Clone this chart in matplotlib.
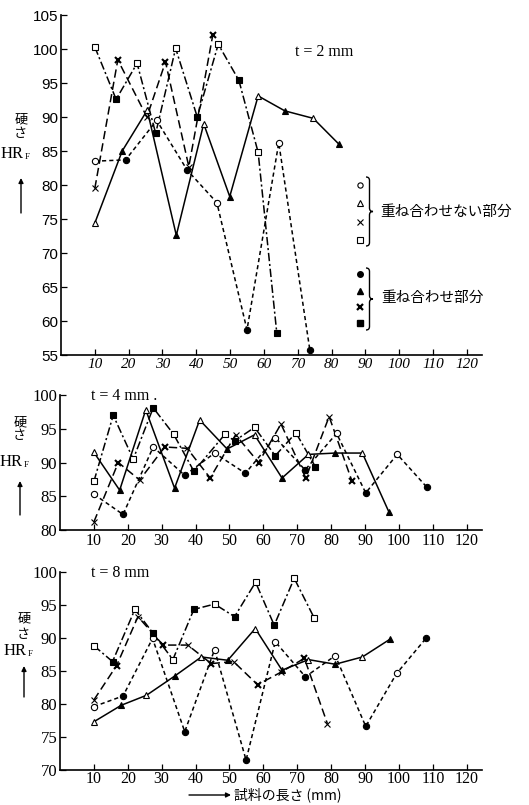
import numpy as np
import matplotlib
matplotlib.use("Agg")
import matplotlib.pyplot as plt
from matplotlib.path import Path
from matplotlib.patches import PathPatch

plt.rcParams['lines.scale_dashes'] = False

# ---------------- data (x: length of specimen mm, y: hardness HRF) ----------------
# t = 2 mm
circ_x_t2 = [10, 19.1, 28.3, 37.3, 46.1, 55.0, 64.4, 73.6]
circ_y_t2 = [83.5, 83.7, 89.5, 82.2, 77.4, 58.7, 86.2, 55.7]
tri_x_t2 = [10, 18.1, 25.5, 34.1, 42.2, 49.9, 58.3, 66.2, 74.6, 82.2]
tri_y_t2 = [74.4, 85.0, 91.0, 72.6, 89.0, 78.3, 93.1, 90.9, 89.8, 86.0]
crs_x_t2 = [10, 16.8, 25.4, 30.9, 37.8, 44.9]
crs_y_t2 = [79.5, 98.4, 90.0, 98.1, 82.7, 102.1]
sq_x_t2 = [10, 16.3, 22.5, 28.0, 33.9, 40.3, 46.5, 52.6, 58.3, 63.8]
sq_y_t2 = [100.3, 92.6, 97.9, 87.6, 100.1, 90.0, 100.7, 95.4, 84.8, 58.3]

# t = 4 mm
circ_x_t4 = [10, 18.6, 27.5, 36.8, 45.6, 54.7, 63.5, 72.3, 81.6, 90.2, 99.5, 108.3]
circ_y_t4 = [85.3, 82.3, 92.3, 88.1, 91.4, 88.4, 93.7, 88.9, 94.3, 85.5, 91.2, 86.3]
tri_x_t4 = [10, 17.6, 25.3, 33.8, 41.2, 49.3, 57.4, 65.5, 73.3, 81.2, 89.2, 97.1]
tri_y_t4 = [91.5, 85.9, 97.8, 86.2, 96.3, 92.0, 94.1, 87.7, 91.2, 91.4, 91.4, 82.6]
crs_x_t4 = [10, 17.2, 23.5, 30.9, 37.5, 44.3, 51.8, 58.6, 65.2, 72.5, 79.4, 86.1]
crs_y_t4 = [81.2, 90.0, 87.4, 92.3, 92.1, 87.7, 94.1, 90.0, 95.7, 87.7, 96.8, 87.3]
sq_x_t4 = [10, 15.7, 21.6, 27.5, 33.5, 39.5, 48.7, 51.5, 57.4, 63.5, 69.6, 75.3]
sq_y_t4 = [87.2, 97.0, 90.5, 98.1, 94.2, 88.7, 94.2, 93.2, 95.2, 91.0, 94.4, 89.4]

# t = 8 mm
circ_x_t8 = [10, 18.6, 27.3, 36.8, 45.6, 54.9, 63.5, 72.4, 81.2, 90.2, 99.3, 108.1]
circ_y_t8 = [79.6, 81.2, 89.9, 75.8, 88.2, 71.5, 89.4, 84.1, 87.3, 76.6, 84.6, 90.0]
tri_x_t8 = [10, 18.1, 25.5, 33.8, 41.7, 49.5, 57.6, 65.5, 73.3, 81.2, 89.2, 97.4]
tri_y_t8 = [77.3, 79.8, 81.3, 84.2, 87.1, 86.6, 91.4, 85.1, 86.7, 86.0, 87.1, 89.8]
crs_x_t8 = [10, 16.7, 23.0, 30.4, 37.7, 44.6, 51.2, 58.3, 65.2, 72.1, 78.9]
crs_y_t8 = [80.6, 85.8, 93.2, 88.9, 88.9, 86.1, 86.4, 82.9, 84.8, 86.9, 77.0]
sq_x_t8 = [10, 15.5, 22.1, 27.3, 33.3, 39.5, 45.6, 51.5, 57.7, 63.2, 69.1, 75.0]
sq_y_t8 = [88.8, 86.4, 94.3, 90.8, 86.7, 94.3, 95.1, 93.2, 98.4, 91.9, 99.0, 93.0]
sq_f_t8 = [0, 1, 0, 1, 0, 1, 0, 1, 0, 1, 0, 0]

x_ticks = [10, 20, 30, 40, 50, 60, 70, 80, 90, 100, 110, 120]
titles = ["t = 2 mm", "t = 4 mm", "t = 8 mm"]
legend_open = "重ね合わせない部分"
legend_filled = "重ね合わせ部分"
xlabel_text = "試料の長さ (mm)"

W, H = 529, 805
fig = plt.figure(figsize=(W / 100, H / 100), dpi=100)
fig.patch.set_facecolor('white')

JP = ['Noto Sans CJK JP', 'DejaVu Sans']
SERIF = 'Liberation Serif'


def px_rect(l, t, r, b):
    return [l / W, 1 - b / H, (r - l) / W, (b - t) / H]


def alt(n):
    return [i % 2 for i in range(n)]


LW = 1.1
styles = {
    'o': dict(ls=(0, (3, 2.2))),
    '^': dict(ls='-'),
    'x': dict(ls=(0, (6, 3))),
    's': dict(ls=(0, (6, 2, 1.5, 2))),
}


def series(ax, xs, ys, marker, filled=None):
    xs = np.asarray(xs, float)
    ys = np.asarray(ys, float)
    f = np.asarray(filled if filled is not None else alt(len(xs)), bool)
    ax.plot(xs, ys, color='k', lw=LW, linestyle=styles[marker]['ls'], zorder=2)
    if marker == 'x':
        ax.plot(xs[~f], ys[~f], 'x', ms=3.8, mew=0.8, color='k', zorder=3)
        ax.plot(xs[f], ys[f], 'x', ms=4.6, mew=1.5, color='k', zorder=3)
    else:
        ms = {'o': 4.5, '^': 4.8, 's': 4.3}[marker]
        ax.plot(xs[~f], ys[~f], marker, ms=ms, mfc='white', mec='k', mew=0.8,
                linestyle='none', zorder=3)
        ax.plot(xs[f], ys[f], marker, ms=ms, mfc='k', mec='k', mew=0.8,
                linestyle='none', zorder=3)


def setup(ax, ylo, yhi, italic_x=False, sans_y=False, xpad=2):
    ax.set_xlim(0, 124.5)
    ax.set_ylim(ylo, yhi)
    for s in ['top', 'right']:
        ax.spines[s].set_visible(False)
    for s in ['left', 'bottom']:
        ax.spines[s].set_linewidth(1.2)
    ax.set_xticks(x_ticks)
    ax.set_yticks(np.arange(ylo, yhi + 0.1, 5))
    ax.tick_params(direction='in', length=4, width=0.9, pad=2)
    ax.tick_params(axis='x', pad=xpad)
    for lab in ax.get_xticklabels():
        if italic_x:
            lab.set_fontfamily(SERIF)
            lab.set_fontstyle('italic')
            lab.set_fontsize(11)
        else:
            lab.set_fontfamily(SERIF)
            lab.set_fontsize(11.5)
    for lab in ax.get_yticklabels():
        if sans_y:
            lab.set_fontfamily('Liberation Sans')
            lab.set_fontsize(11)
        else:
            lab.set_fontfamily(SERIF)
            lab.set_fontsize(12)
    ax.set_facecolor('none')


ax1 = fig.add_axes(px_rect(61, 15, 482, 355))
setup(ax1, 55, 105, italic_x=True, sans_y=True)
series(ax1, circ_x_t2, circ_y_t2, 'o')
series(ax1, tri_x_t2, tri_y_t2, '^')
series(ax1, crs_x_t2, crs_y_t2, 'x')
series(ax1, sq_x_t2, sq_y_t2, 's')

ax2 = fig.add_axes(px_rect(60, 395, 482, 530))
setup(ax2, 80, 100)
series(ax2, circ_x_t4, circ_y_t4, 'o')
series(ax2, tri_x_t4, tri_y_t4, '^')
series(ax2, crs_x_t4, crs_y_t4, 'x')
series(ax2, sq_x_t4, sq_y_t4, 's')

ax3 = fig.add_axes(px_rect(60, 571.7, 482, 770))
setup(ax3, 70, 100, xpad=1)
series(ax3, circ_x_t8, circ_y_t8, 'o')
series(ax3, tri_x_t8, tri_y_t8, '^')
series(ax3, crs_x_t8, crs_y_t8, 'x')
series(ax3, sq_x_t8, sq_y_t8, 's', filled=sq_f_t8)

# ---------------- overlay in pixel coordinates ----------------
ov = fig.add_axes([0, 0, 1, 1])
ov.set_xlim(0, W)
ov.set_ylim(H, 0)
ov.axis('off')
ov.set_facecolor('none')

# panel titles
ov.text(295, 52, titles[0], fontfamily=SERIF, fontsize=11.5, va='center', ha='left')
ov.text(91, 396, titles[1] + " .", fontfamily=SERIF, fontsize=11.5, va='center', ha='left')
ov.text(91, 573, titles[2], fontfamily=SERIF, fontsize=11.5, va='center', ha='left')

# y labels (vertical)
for (cx, y1, y2, yhr, ya0, ya1) in [(21, 120, 134, 154, 213, 178),
                                   (20, 423, 435, 462, 515, 481),
                                   (24, 619, 634, 651, 697, 666)]:
    ov.text(cx, y1, "硬", fontfamily=JP, fontsize=9.5, ha='center', va='center')
    ov.text(cx, y2, "さ", fontfamily=JP, fontsize=9.5, ha='center', va='center')
    ov.text(cx + 3, yhr, "HR", fontfamily=SERIF, fontsize=12, ha='right', va='center')
    ov.text(cx + 4, yhr + 3, "F", fontfamily=SERIF, fontsize=6.5, ha='left', va='center')
    ov.annotate('', xy=(cx, ya1), xytext=(cx, ya0),
                arrowprops=dict(arrowstyle='-|>', lw=1.0, color='k', mutation_scale=7,
                                shrinkA=0, shrinkB=0))

# x label with arrow
ov.annotate('', xy=(231, 795), xytext=(189, 795),
            arrowprops=dict(arrowstyle='-|>', lw=1.0, color='k', mutation_scale=7,
                            shrinkA=0, shrinkB=0))
ov.text(234, 795, xlabel_text, fontfamily=JP, fontsize=10, ha='left', va='center')

# legend
leg_open_y = [185, 203, 222, 240]
leg_fill_y = [274, 291, 307, 323]
lx = 360
ov.plot([lx], [leg_open_y[0]], 'o', ms=3.8, mfc='white', mec='k', mew=0.8)
ov.plot([lx], [leg_open_y[1]], '^', ms=4, mfc='white', mec='k', mew=0.8)
ov.plot([lx], [leg_open_y[2]], 'x', ms=4, mew=0.8, color='k')
ov.plot([lx], [leg_open_y[3]], 's', ms=3.8, mfc='white', mec='k', mew=0.8)
ov.plot([lx], [leg_fill_y[0]], 'o', ms=4, mfc='k', mec='k')
ov.plot([lx], [leg_fill_y[1]], '^', ms=4.2, mfc='k', mec='k')
ov.plot([lx], [leg_fill_y[2]], 'x', ms=4.5, mew=1.6, color='k')
ov.plot([lx], [leg_fill_y[3]], 's', ms=4, mfc='k', mec='k')


def brace(x0, y0, y1, w):
    ym = (y0 + y1) / 2
    h = w / 2
    verts = [(x0, y0), (x0 + h, y0), (x0 + h, y0 + h),
             (x0 + h, ym - h),
             (x0 + h, ym), (x0 + w, ym),
             (x0 + h, ym), (x0 + h, ym + h),
             (x0 + h, y1 - h),
             (x0 + h, y1), (x0, y1)]
    codes = [Path.MOVETO, Path.CURVE3, Path.CURVE3, Path.LINETO,
             Path.CURVE3, Path.CURVE3, Path.CURVE3, Path.CURVE3,
             Path.LINETO, Path.CURVE3, Path.CURVE3]
    ov.add_patch(PathPatch(Path(verts, codes), fill=False, lw=1.0, ec='k'))


brace(366, 177, 246, 7)
brace(366, 268, 330, 7)
ov.text(380, 212, legend_open, fontfamily=JP, fontsize=10.5, ha='left', va='center')
ov.text(381, 298, legend_filled, fontfamily=JP, fontsize=10.5, ha='left', va='center')

fig.savefig('out.png', dpi=100, facecolor='white')
